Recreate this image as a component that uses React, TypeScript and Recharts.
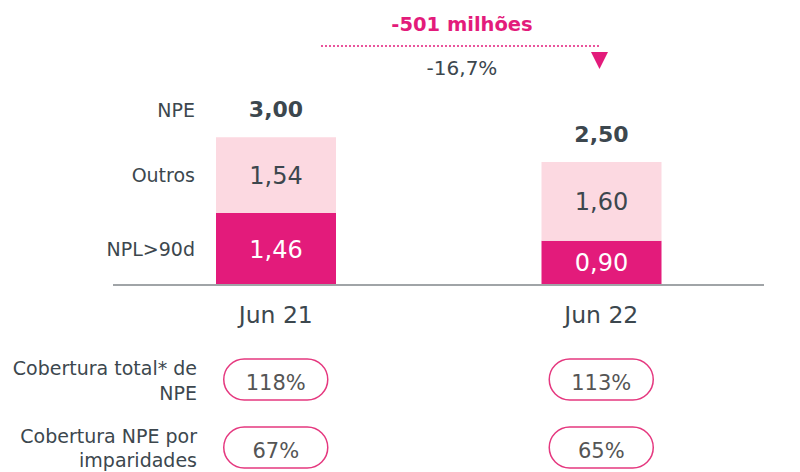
import { BarChart, Bar, XAxis, YAxis, LabelList } from "recharts";

const categories = ["Jun 21", "Jun 22"];
const nplValues = [1.46, 0.9];
const outrosValues = [1.54, 1.6];
const npeTotals = [3.0, 2.5];
const coberturaTotal = [118, 113];
const coberturaImparidades = [67, 65];
const seriesNames = { npl: "NPL>90d", outros: "Outros", total: "NPE" };

const data = categories.map((name, i) => ({
  name,
  npl: nplValues[i],
  outros: outrosValues[i],
}));

const PINK = "#e31b7b";
const LIGHT = "#fcd9e1";
const TEXT = "#3c474e";
const PILL_TEXT = "#555555";
const FONT = "'DejaVu Sans', sans-serif";

const fmt = (v: number) => v.toFixed(2).replace(".", ",");

function Pill({ cx, top, value }: { cx: number; top: number; value: number }) {
  return (
    <g>
      <rect
        x={cx - 52}
        y={top}
        width={104}
        height={41}
        rx={20.5}
        fill="#fff"
        stroke="#e5387f"
        strokeWidth={1.5}
      />
      <text
        x={cx}
        y={top + 31}
        textAnchor="middle"
        fontSize={21}
        fill={PILL_TEXT}
        fontFamily={FONT}
      >
        {value}%
      </text>
    </g>
  );
}

function CategoryTick(props: any) {
  const { x, y, payload } = props;
  const i = categories.indexOf(payload.value);
  return (
    <g>
      <text
        x={x}
        y={y + 38}
        textAnchor="middle"
        fontSize={23.5}
        fill={TEXT}
        fontFamily={FONT}
      >
        {payload.value}
      </text>
      <Pill cx={x} top={y + 74} value={coberturaTotal[i]} />
      <Pill cx={x} top={y + 142} value={coberturaImparidades[i]} />
    </g>
  );
}

// series name on the left of the first bar
const sideName = (name: string) => (props: any) => {
  const { x, y, height, index } = props;
  if (index !== 0) return null;
  return (
    <text
      x={x - 21}
      y={y + height / 2 + 7}
      textAnchor="end"
      fontSize={19}
      fill={TEXT}
      fontFamily={FONT}
    >
      {name}
    </text>
  );
};

function TotalLabel(props: any) {
  const { x, y, width, index } = props;
  return (
    <g>
      <text
        x={x + width / 2}
        y={y - 20}
        textAnchor="middle"
        fontSize={22}
        fontWeight="bold"
        fill={TEXT}
        fontFamily={FONT}
      >
        {fmt(npeTotals[index])}
      </text>
      {index === 0 && (
        <text
          x={x - 21}
          y={y - 20}
          textAnchor="end"
          fontSize={19}
          fill={TEXT}
          fontFamily={FONT}
        >
          {seriesNames.total}
        </text>
      )}
    </g>
  );
}

export default function App() {
  return (
    <div
      style={{
        position: "absolute",
        left: 0,
        top: 0,
        width: 800,
        height: 472,
        background: "#fff",
        fontFamily: FONT,
      }}
    >
      <BarChart
        width={800}
        height={472}
        data={data}
        margin={{ top: 88, right: 36, left: 113, bottom: 0 }}
      >
        <YAxis hide domain={[0, 4]} />
        <XAxis
          dataKey="name"
          height={187}
          axisLine={{ stroke: "#a0a4a7", strokeWidth: 2 }}
          tickLine={false}
          tickSize={0}
          tickMargin={0}
          interval={0}
          tick={<CategoryTick />}
        />
        <Bar dataKey="npl" stackId="a" fill={PINK} barSize={120} isAnimationActive={false}>
          <LabelList
            dataKey="npl"
            position="center"
            formatter={(v: any) => fmt(Number(v))}
            fill="#ffffff"
            fontSize={24}
            fontFamily={FONT}
          />
          <LabelList dataKey="npl" content={sideName(seriesNames.npl)} />
        </Bar>
        <Bar dataKey="outros" stackId="a" fill={LIGHT} barSize={120} isAnimationActive={false}>
          <LabelList
            dataKey="outros"
            position="center"
            formatter={(v: any) => fmt(Number(v))}
            fill={TEXT}
            fontSize={24}
            fontFamily={FONT}
          />
          <LabelList dataKey="outros" content={sideName(seriesNames.outros)} />
          <LabelList dataKey="outros" content={<TotalLabel />} />
        </Bar>
      </BarChart>

      <svg
        width={800}
        height={472}
        style={{ position: "absolute", left: 0, top: 0, pointerEvents: "none" }}
      >
        <text
          x={462}
          y={31}
          textAnchor="middle"
          fontSize={19.5}
          fontWeight="bold"
          fill={PINK}
          fontFamily={FONT}
        >
          -501 milhões
        </text>
        <line
          x1={322}
          y1={46}
          x2={600}
          y2={46}
          stroke={PINK}
          strokeWidth={2}
          strokeDasharray="0 4"
          strokeLinecap="round"
        />
        <path d="M591 52 L608 52 L599.5 69 Z" fill={PINK} />
        <text
          x={462}
          y={75}
          textAnchor="middle"
          fontSize={20}
          fill={TEXT}
          fontFamily={FONT}
        >
          -16,7%
        </text>

        <g fontSize={19} fill={TEXT} fontFamily={FONT} textAnchor="end">
          <text x={197} y={375}>Cobertura total* de</text>
          <text x={197} y={400}>NPE</text>
          <text x={197} y={443}>Cobertura NPE por</text>
          <text x={197} y={467}>imparidades</text>
        </g>
      </svg>
    </div>
  );
}
